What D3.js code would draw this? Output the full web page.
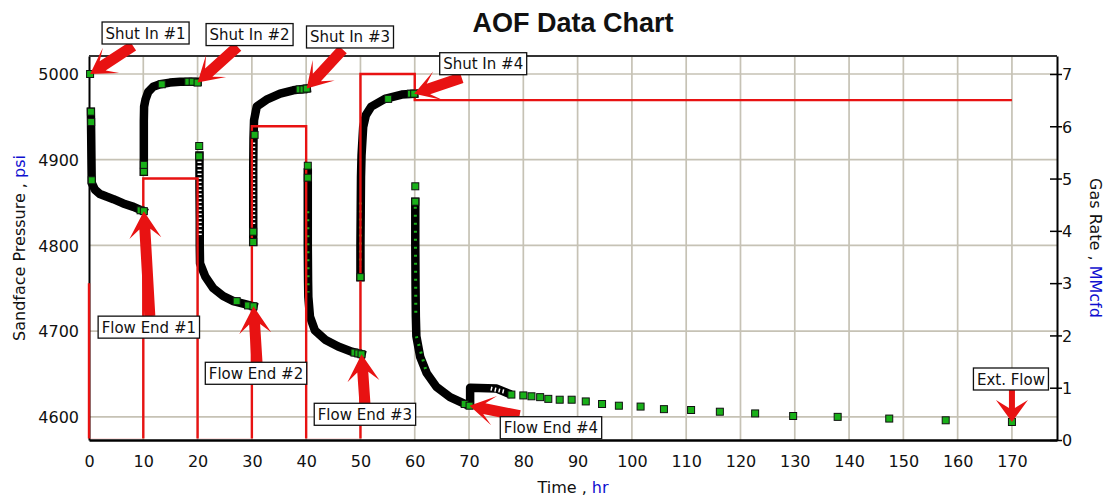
<!DOCTYPE html>
<html lang="en">
<head>
    <meta charset="UTF-8">
    <title>AOF Data Chart</title>
    <script src="https://d3js.org/d3.v7.min.js"></script>
    <style>
        body {
            margin: 0;
            background: #fff;
            font-family: "DejaVu Sans", sans-serif;
        }
        .tick text {
            font-family: "DejaVu Sans", sans-serif;
            font-size: 16px;
            fill: #111;
        }
        .callout text {
            font-size: 15px;
            fill: #111;
        }
        .axis-title {
            font-size: 16px;
            fill: #111;
        }
        .unit {
            fill: #1010d0;
        }
    </style>
</head>
<body>
    <div id="chart"></div>
    <script>
        // Tick labels
        const timeTicks = [0, 10, 20, 30, 40, 50, 60, 70, 80, 90, 100, 110, 120, 130, 140, 150, 160, 170];
        const pressureTicks = [4600, 4700, 4800, 4900, 5000];
        const rateTicks = [0, 1, 2, 3, 4, 5, 6, 7];

        // Gas rate schedule [hr, MMcfd] (step after)
        const gasRate = [[0, 3.0], [0, 0], [10, 5], [20, 0], [30, 6], [40, 0], [50, 7], [60, 6.5], [170, 6.5]];

        // Sandface pressure, dense parts of each period [hr, psi]
        const flow1 = [[0.35, 4956], [0.4, 4930], [0.45, 4900], [0.5, 4873], [1.1, 4865], [2.0, 4860], [3.2, 4857], [4.5, 4854], [6.3, 4849], [8.2, 4845], [10.0, 4840]];
        const buildup1 = [[10.1, 4886], [10.1, 4920], [10.1, 4945], [10.15, 4962], [10.4, 4970], [10.9, 4979], [11.8, 4985], [13.1, 4988], [14.9, 4990], [16.8, 4991], [18.6, 4991], [20.0, 4991]];
        const flow2 = [[20.35, 4905], [20.35, 4870], [20.4, 4830], [20.4, 4800], [20.45, 4779], [21.4, 4764], [22.9, 4750], [24.7, 4741], [26.6, 4735], [28.4, 4732], [30.3, 4729]];
        const buildup2 = [[30.25, 4804], [30.25, 4850], [30.25, 4890], [30.3, 4925], [30.4, 4946], [30.9, 4962], [32.7, 4970], [35.2, 4977], [37.6, 4981], [40.1, 4983]];
        const flow3 = [[40.3, 4885], [40.3, 4850], [40.3, 4800], [40.35, 4760], [40.4, 4740], [40.7, 4717], [41.6, 4701], [43.5, 4690], [45.9, 4682], [48.4, 4676], [50.2, 4673]];
        const buildup3 = [[50.0, 4763], [50.0, 4800], [50.05, 4840], [50.1, 4880], [50.2, 4905], [50.5, 4938], [51.0, 4952], [52.0, 4962], [54.5, 4971], [57.6, 4976], [59.9, 4977]];
        const flow4 = [[60.1, 4851], [60.1, 4800], [60.15, 4750], [60.2, 4717], [60.3, 4694], [61.0, 4670], [62.2, 4651], [64.0, 4635], [66.5, 4623], [69.6, 4614], [70.2, 4614], [70.2, 4634], [75.1, 4633], [77.0, 4628]];

        // Runs inside the dense parts where points are hollow or green
        const hollowRuns = [
          [[20.35, 4898], [20.4, 4812]],
          [[30.25, 4920], [30.25, 4825]],
          [[74.0, 4633], [76.8, 4629]]
        ];
        const greenRuns = [
          [[40.3, 4840], [40.35, 4745]],
          [[50.0, 4850], [50.0, 4775]],
          [[60.1, 4845], [60.2, 4715]],
          [[60.3, 4694], [62.2, 4651]]
        ];

        // Green sample points [hr, psi]
        const flow1Marks = [[0.2, 5000], [0.35, 4956], [0.4, 4944], [0.5, 4876], [9.5, 4841], [10.1, 4840]];
        const buildup1Marks = [[10.1, 4886], [10.1, 4894], [13.4, 4988], [18.3, 4991], [19.1, 4991], [20.0, 4990]];
        const flow2Marks = [[20.3, 4916], [20.3, 4904], [27.2, 4735], [29.3, 4730], [30.3, 4729]];
        const buildup2Marks = [[30.25, 4804], [30.25, 4816], [30.5, 4929], [38.8, 4982], [39.5, 4982], [40.1, 4983]];
        const flow3Marks = [[40.3, 4893], [40.3, 4879], [48.9, 4675], [49.6, 4674], [50.2, 4673]];
        const buildup3Marks = [[50.0, 4763], [55.1, 4971], [59.3, 4977], [59.9, 4977]];
        const flow4Marks = [[60.1, 4869], [60.1, 4851], [69.2, 4615], [70.1, 4613]];
        const extFlowMarks = [[77.8, 4626], [80.0, 4625], [81.5, 4624], [83.1, 4623], [84.6, 4621], [86.7, 4620], [88.9, 4620], [91.5, 4618], [94.5, 4615], [97.6, 4613], [101.6, 4612], [105.9, 4609], [110.9, 4608], [116.2, 4606], [122.7, 4604], [129.7, 4601], [137.9, 4600], [147.4, 4598], [157.8, 4596], [170.0, 4594]];

        // Callouts: label and the point it points at [hr, psi]
        const calloutLabels = ["Shut In #1", "Shut In #2", "Shut In #3", "Shut In #4", "Flow End #1", "Flow End #2", "Flow End #3", "Flow End #4", "Ext. Flow"];
        const calloutTargets = [[0.2, 5000], [20.0, 4990], [40.1, 4983], [59.9, 4977], [10.1, 4840], [30.3, 4729], [50.2, 4673], [70.1, 4613], [170, 4594]];

        // Callout layout: box centre and arrow tail, px from the target
        const calloutLayout = [
          { box: [55.5, -41], tail: [43, -28], kind: "shut" },
          { box: [52, -48], tail: [40, -36], kind: "shut" },
          { box: [43.3, -51.6], tail: [36, -39], kind: "shut" },
          { box: [69, -30], tail: [47.5, -16], kind: "shut" },
          { box: [5, 116], tail: [6, 105], kind: "flow" },
          { box: [2.5, 67], tail: [3.5, 56], kind: "flow" },
          { box: [3.4, 60], tail: [3.4, 49], kind: "flow" },
          { box: [81.4, 22], tail: [50, 10], kind: "shut" },
          { box: [-1, -43], tail: [0, -32], kind: "ext" }
        ];
        const arrowShapes = {
          shut: { head: 25, barb: 15, neck: 15, shaft: 5.5 },
          flow: { head: 27, barb: 16, neck: 18, shaft: 5.5 },
          ext: { head: 22, barb: 16, neck: 14, shaft: 3 }
        };

        const gridColor = "#c6c2b5";
        const red = "#e81212";
        const green = "#19b019";

        const svg = d3.select("#chart")
          .append("svg")
          .attr("width", 1106)
          .attr("height", 496);

        // Scales
        const x = d3.scaleLinear().domain([0, 178.3]).range([89, 1057]);
        const yP = d3.scaleLinear().domain([4573, 5021]).range([440, 56]);
        const yR = d3.scaleLinear().domain([0, 7.344]).range([440, 56]);
        const [xLeft, xRight] = x.range();
        const [yBottom, yTop] = yP.range();

        // Clip for the rate line so the zero segments hide under the x axis
        svg.append("clipPath").attr("id", "rate-clip")
          .append("rect")
          .attr("x", xLeft - 3).attr("y", yTop)
          .attr("width", xRight - xLeft + 6).attr("height", yBottom - yTop - 1.6);

        // Grid
        svg.append("g").selectAll("line")
          .data(pressureTicks)
          .join("line")
          .attr("x1", xLeft).attr("x2", xRight)
          .attr("y1", d => yP(d)).attr("y2", d => yP(d))
          .attr("stroke", gridColor).attr("stroke-width", 1.7);

        svg.append("g").selectAll("line")
          .data(timeTicks.filter(d => d > 0))
          .join("line")
          .attr("x1", d => x(d)).attr("x2", d => x(d))
          .attr("y1", yTop).attr("y2", yBottom)
          .attr("stroke", gridColor).attr("stroke-width", 1.7);

        // Left axis
        const gLeft = svg.append("g")
          .attr("transform", `translate(${xLeft},0)`)
          .call(d3.axisLeft(yP).tickValues(pressureTicks).tickSize(0).tickPadding(10).tickFormat(d3.format("d")));
        gLeft.select(".domain").attr("stroke", "#000").attr("stroke-width", 2);
        gLeft.selectAll("text").attr("dy", "0.36em");

        // Pressure: dense bands
        const pLine = d3.line().x(d => x(d[0])).y(d => yP(d[1]));
        svg.append("g").selectAll("path")
          .data([flow1, buildup1, flow2, buildup2, flow3, buildup3, flow4])
          .join("path")
          .attr("d", pLine)
          .attr("fill", "none")
          .attr("stroke", "#000")
          .attr("stroke-width", 8.5)
          .attr("stroke-linejoin", "round")
          .attr("stroke-linecap", "square");

        svg.append("g").selectAll("path")
          .data(hollowRuns)
          .join("path")
          .attr("d", pLine)
          .attr("fill", "none")
          .attr("stroke", "#fff")
          .attr("stroke-width", 4)
          .attr("stroke-dasharray", "1.5 2.5");

        svg.append("g").selectAll("path")
          .data(greenRuns)
          .join("path")
          .attr("d", pLine)
          .attr("fill", "none")
          .attr("stroke", green)
          .attr("stroke-width", 3)
          .attr("stroke-dasharray", "2 6");

        // Gas rate
        const rateLine = d3.line().x(d => x(d[0])).y(d => yR(d[1])).curve(d3.curveStepAfter);
        svg.append("path")
          .datum(gasRate)
          .attr("d", rateLine)
          .attr("clip-path", "url(#rate-clip)")
          .attr("fill", "none")
          .attr("stroke", red)
          .attr("stroke-width", 2.4);

        // Pressure: sample markers
        const marks = [].concat(flow1Marks, buildup1Marks, flow2Marks, buildup2Marks, flow3Marks, buildup3Marks, flow4Marks, extFlowMarks);
        svg.append("g").selectAll("rect")
          .data(marks)
          .join("rect")
          .attr("x", d => x(d[0]) - 3.5)
          .attr("y", d => yP(d[1]) - 3.5)
          .attr("width", 7)
          .attr("height", 7)
          .attr("fill", green)
          .attr("stroke", "#111")
          .attr("stroke-width", 1);

        // Top border
        svg.append("line")
          .attr("x1", xLeft).attr("x2", xRight)
          .attr("y1", yTop).attr("y2", yTop)
          .attr("stroke", "#333").attr("stroke-width", 2);

        // Bottom axis
        const gBottom = svg.append("g")
          .attr("transform", `translate(0,${yBottom})`)
          .call(d3.axisBottom(x).tickValues(timeTicks).tickSize(0).tickPadding(16));
        gBottom.select(".domain").attr("stroke", "#000").attr("stroke-width", 2.4);

        // Right axis
        const gRight = svg.append("g")
          .attr("transform", `translate(${xRight},0)`)
          .call(d3.axisRight(yR).tickValues(rateTicks).tickSizeInner(5).tickSizeOuter(0).tickPadding(0));
        gRight.select(".domain").attr("stroke", "#000").attr("stroke-width", 2);
        gRight.selectAll(".tick line").attr("x1", -7).attr("stroke", "#000").attr("stroke-width", 1.5);
        gRight.selectAll("text").attr("dy", "0.36em");

        // Callouts
        function arrowPath(tip, tail, s) {
          const dx = tail[0] - tip[0], dy = tail[1] - tip[1];
          const len = Math.hypot(dx, dy), c = dx / len, sn = dy / len;
          const pts = [[0, 0], [s.head, s.barb], [s.neck, s.shaft], [len, s.shaft], [len, -s.shaft], [s.neck, -s.shaft], [s.head, -s.barb]];
          return d3.line()(pts.map(([u, v]) => [tip[0] + u * c - v * sn, tip[1] + u * sn + v * c])) + "Z";
        }

        const callouts = svg.append("g").attr("class", "callout");
        calloutLabels.forEach((label, i) => {
          const lay = calloutLayout[i];
          const tip = [x(calloutTargets[i][0]), yP(calloutTargets[i][1])];
          callouts.append("path")
            .attr("d", arrowPath(tip, [tip[0] + lay.tail[0], tip[1] + lay.tail[1]], arrowShapes[lay.kind]))
            .attr("fill", red);
        });
        calloutLabels.forEach((label, i) => {
          const lay = calloutLayout[i];
          const cx = x(calloutTargets[i][0]) + lay.box[0];
          const cy = yP(calloutTargets[i][1]) + lay.box[1];
          const g = callouts.append("g");
          const rect = g.append("rect");
          const text = g.append("text")
            .attr("x", cx).attr("y", cy + 5.5)
            .attr("text-anchor", "middle")
            .text(label);
          const w = text.node().getComputedTextLength() + 7;
          rect.attr("x", cx - w / 2).attr("y", cy - 11)
            .attr("width", w).attr("height", 22)
            .attr("fill", "#fff").attr("stroke", "#111").attr("stroke-width", 1.3);
        });

        // Title
        svg.append("text")
          .attr("x", 573).attr("y", 32)
          .attr("text-anchor", "middle")
          .attr("font-family", "Liberation Sans, Arial, sans-serif")
          .attr("font-weight", "bold")
          .attr("font-size", 27)
          .attr("fill", "#111")
          .text("AOF Data Chart");

        // Axis titles
        const xTitle = svg.append("text")
          .attr("class", "axis-title")
          .attr("x", (xLeft + xRight) / 2).attr("y", 493)
          .attr("text-anchor", "middle");
        xTitle.append("tspan").text("Time , ");
        xTitle.append("tspan").attr("class", "unit").text("hr");

        const yTitle = svg.append("text")
          .attr("class", "axis-title")
          .attr("transform", `translate(25,${(yTop + yBottom) / 2}) rotate(-90)`)
          .attr("text-anchor", "middle");
        yTitle.append("tspan").text("Sandface Pressure , ");
        yTitle.append("tspan").attr("class", "unit").text("psi");

        const rTitle = svg.append("text")
          .attr("class", "axis-title")
          .attr("transform", `translate(1090,${(yTop + yBottom) / 2}) rotate(90)`)
          .attr("text-anchor", "middle");
        rTitle.append("tspan").text("Gas Rate , ");
        rTitle.append("tspan").attr("class", "unit").text("MMcfd");
    </script>
</body>
</html>
